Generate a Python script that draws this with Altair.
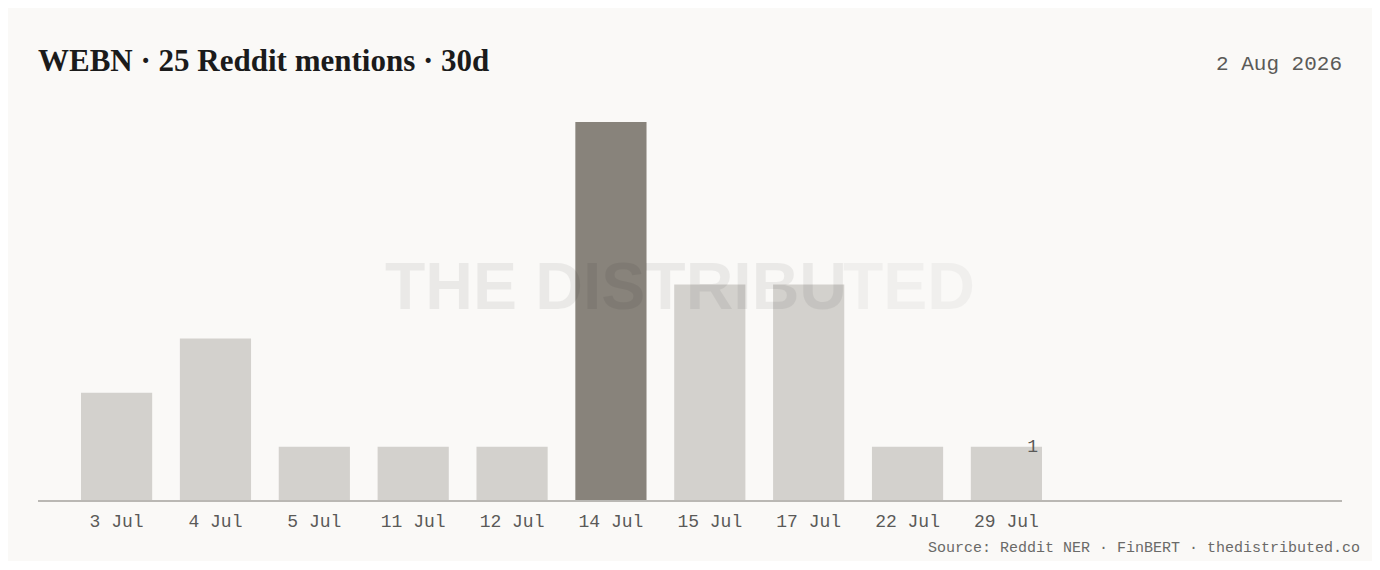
import altair as alt
import pandas as pd

# ---- data ----
labels = ["3 Jul", "4 Jul", "5 Jul", "11 Jul", "12 Jul", "14 Jul", "15 Jul", "17 Jul", "22 Jul", "29 Jul"]
counts = [2, 3, 1, 1, 1, 7, 4, 4, 1, 1]
title_text = "WEBN · 25 Reddit mentions · 30d"
date_text = "2 Aug 2026"
source_text = "Source: Reddit NER · FinBERT · thedistributed.co"
watermark_a = "THE DISTRIBU"
watermark_b = "TED"

BG = "#faf9f7"
MONO = "Liberation Mono"
W, H = 1304, 379

peak = max(counts)
df = pd.DataFrame({"day": labels, "n": counts,
                   "hi": [c == peak for c in counts]})

x = alt.X("day:N", sort=labels, title=None,
          scale=alt.Scale(range=[0, 1047], paddingInner=0.28, paddingOuter=0.435),
          axis=alt.Axis(domain=False, ticks=False, labelAngle=0, labelFont=MONO,
                        labelFontSize=18, labelColor="#5a5a58", labelPadding=11))
y = alt.Y("n:Q", title=None, scale=alt.Scale(domain=[0, peak], nice=False),
          axis=None)

bars = alt.Chart(df).mark_bar().encode(
    x=x, y=y,
    color=alt.Color("hi:N", scale=alt.Scale(domain=[False, True], range=["#d3d1cd", "#88837b"]),
                    legend=None),
)

last = pd.DataFrame({"day": [labels[-1]], "n": [counts[-1]]})
last_lbl = alt.Chart(last).mark_text(
    align="right", baseline="middle", font=MONO, fontSize=18, color="#5a5a58", dx=-4
).encode(x=alt.X("day:N", sort=labels, bandPosition=1), y="n:Q", text="n:Q")

base_rule = alt.Chart(df).mark_rule(color="#bab8b4", strokeWidth=1.5).encode(
    x=alt.value(0), x2=alt.value(W), y=alt.value(H))

def txt(s, **kw):
    return alt.Chart(pd.DataFrame({"t": [s]})).mark_text(**kw).encode(text="t:N")

title = txt(title_text, align="left", baseline="alphabetic", font="Liberation Serif",
            fontSize=31, fontWeight="bold", color="#1b1b1b"
            ).encode(x=alt.value(0), y=alt.value(-51))
date = txt(date_text, align="right", baseline="alphabetic", font=MONO, fontSize=21,
           color="#5a5a58").encode(x=alt.value(W), y=alt.value(-52))
source = txt(source_text, align="right", baseline="alphabetic", font=MONO, fontSize=15,
             color="#6a6a68").encode(x=alt.value(1322), y=alt.value(430))

wm_kw = dict(align="left", baseline="alphabetic", font="Liberation Sans", fontSize=66,
             fontWeight="bold", color="#000000")
wm1 = txt(watermark_a, opacity=0.06, **wm_kw).encode(x=alt.value(347), y=alt.value(187))
wm2 = txt(watermark_b, opacity=0.035, **wm_kw).encode(x=alt.value(805), y=alt.value(187))

chart = alt.layer(bars, wm1, wm2, base_rule, last_lbl, title, date, source).properties(
    width=W, height=H,
    autosize=alt.AutoSizeParams(type="none"),
    padding={"left": 30, "top": 114, "right": 30, "bottom": 60},
    background=BG,
).configure_view(stroke=None)

chart.save("out.html", embed_options={"renderer": "svg", "actions": False})
